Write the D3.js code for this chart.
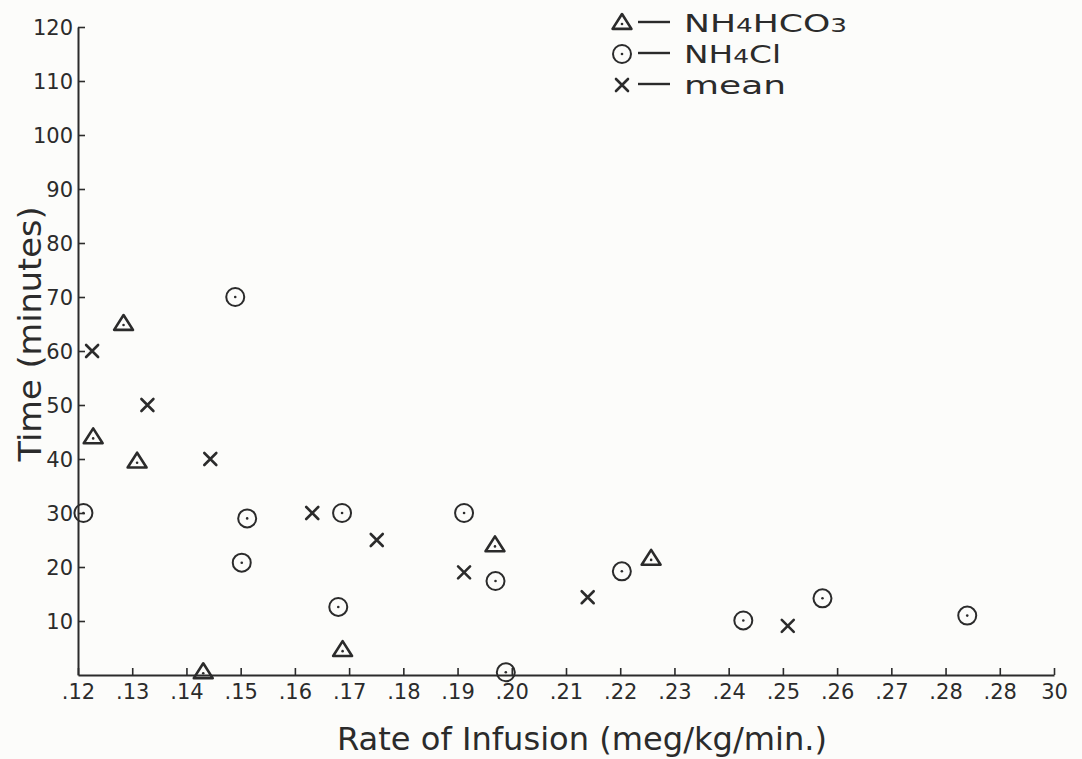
<!DOCTYPE html>
<html>
<head>
<meta charset="utf-8">
<script src="https://cdn.jsdelivr.net/npm/d3@7/dist/d3.min.js"></script>
<style>
  html, body { margin: 0; padding: 0; background: #fcfcfa; }
  svg { display: block; }
  text { font-family: "DejaVu Sans", sans-serif; fill: #2b2b2b; }
</style>
</head>
<body>
<svg id="chart" width="1082" height="759"></svg>
<script>
// ---- data ----
const xTickValues = [0.12,0.13,0.14,0.15,0.16,0.17,0.18,0.19,0.20,0.21,0.22,0.23,0.24,0.25,0.26,0.27,0.28,0.29,0.30];
const xTickLabels = [".12",".13",".14",".15",".16",".17",".18",".19",".20",".21",".22",".23",".24",".25",".26",".27",".28",".28","30"];
const yTickValues = [10,20,30,40,50,60,70,80,90,100,110,120];
const yTickLabels = ["10","20","30","40","50","60","70","80","90","100","110","120"];

// NH4HCO3 (triangles): [rate, time]
const nh4hco3 = [[0.1284,65],[0.1228,44],[0.1309,39.5],[0.1431,0.5],[0.1688,4.6],[0.1969,24],[0.2257,21.5]];
// NH4Cl (circles)
const nh4cl = [[0.1490,70],[0.1210,30],[0.1512,29],[0.1502,20.8],[0.1687,30],[0.1680,12.6],[0.1912,30],
               [0.1970,17.4],[0.1989,0.5],[0.2203,19.2],[0.2427,10.1],[0.2573,14.2],[0.2840,11]];
// mean (crosses)
const meanPts = [[0.1226,60],[0.1328,50],[0.1444,40],[0.1632,30],[0.1751,25],[0.1912,19],[0.2140,14.4],[0.2509,9.1]];

const ink = "#2b2b2b";
const svg = d3.select("#chart");

const x = d3.scaleLinear().domain([0.12, 0.30]).range([78, 1054]);
const y = d3.scaleLinear().domain([0, 120]).range([675, 27]);

// axes
const xAxis = d3.axisBottom(x).tickValues(xTickValues)
  .tickFormat((d,i) => xTickLabels[i]).tickSizeInner(-7).tickSizeOuter(0).tickPadding(9);
const yAxis = d3.axisLeft(y).tickValues(yTickValues)
  .tickFormat((d,i) => yTickLabels[i]).tickSizeInner(-7).tickSizeOuter(0).tickPadding(5);

const gx = svg.append("g").attr("transform", `translate(0,${y(0)})`).call(xAxis);
const gy = svg.append("g").attr("transform", `translate(${x(0.12)},0)`).call(yAxis);

[gx, gy].forEach(g => {
  g.select(".domain").attr("stroke", ink).attr("stroke-width", 2);
  g.selectAll(".tick line").attr("stroke", ink).attr("stroke-width", 1.6);
  g.selectAll(".tick text").style("font-size", "21px").style("font-family", "DejaVu Sans, sans-serif").attr("fill", ink);
});
gy.selectAll(".tick text").attr("dy", "0.36em");

// axis titles
svg.append("text")
  .attr("x", 582).attr("y", 750)
  .attr("text-anchor", "middle")
  .attr("textLength", 490).attr("lengthAdjust", "spacingAndGlyphs")
  .style("font-size", "32px")
  .text("Rate of Infusion (meg/kg/min.)");

svg.append("text")
  .attr("transform", "translate(41,334) rotate(-90)")
  .attr("text-anchor", "middle")
  .attr("textLength", 255).attr("lengthAdjust", "spacingAndGlyphs")
  .style("font-size", "32px")
  .text("Time (minutes)");

// marker drawers
function triangle(g, cx, cy) {
  const s = 9;
  g.append("path")
    .attr("d", `M${cx},${cy - s} L${cx + s * 1.05},${cy + s * 0.65} L${cx - s * 1.05},${cy + s * 0.65} Z`)
    .attr("fill", "none").attr("stroke", ink).attr("stroke-width", 2.6).attr("stroke-linejoin", "round");
  g.append("circle").attr("cx", cx).attr("cy", cy + 1).attr("r", 1.3).attr("fill", ink);
}
function ring(g, cx, cy) {
  g.append("circle").attr("cx", cx).attr("cy", cy).attr("r", 9)
    .attr("fill", "none").attr("stroke", ink).attr("stroke-width", 2);
  g.append("circle").attr("cx", cx).attr("cy", cy).attr("r", 1.3).attr("fill", ink);
}
function cross(g, cx, cy) {
  const s = 6;
  g.append("path")
    .attr("d", `M${cx - s},${cy - s} L${cx + s},${cy + s} M${cx + s},${cy - s} L${cx - s},${cy + s}`)
    .attr("stroke", ink).attr("stroke-width", 2.6).attr("stroke-linecap", "round");
}

const gm = svg.append("g");
nh4hco3.forEach(d => triangle(gm, x(d[0]), y(d[1])));
nh4cl.forEach(d => ring(gm, x(d[0]), y(d[1])));
meanPts.forEach(d => cross(gm, x(d[0]), y(d[1])));

// legend
const legend = [
  { mark: triangle, cy: 23, parts: [["NH",""],["4","sub"],["HCO",""],["3","sub"]], len: 163 },
  { mark: ring,     cy: 54, parts: [["NH",""],["4","sub"],["Cl",""]], len: 97 },
  { mark: cross,    cy: 85, parts: [["mean",""]], len: 102 }
];
const gl = svg.append("g");
legend.forEach(item => {
  item.mark(gl, 622, item.cy);
  gl.append("line").attr("x1", 638).attr("x2", 670).attr("y1", item.cy - 1).attr("y2", item.cy - 1)
    .attr("stroke", ink).attr("stroke-width", 2.4);
  const t = gl.append("text").attr("x", 684).attr("y", item.cy + 9)
    .style("font-size", "25px").attr("textLength", item.len).attr("lengthAdjust", "spacingAndGlyphs");
  item.parts.forEach(p => {
    const ts = t.append("tspan").text(p[0]);
    if (p[1] === "sub") ts.style("font-size", "19px");
  });
});
</script>
</body>
</html>
